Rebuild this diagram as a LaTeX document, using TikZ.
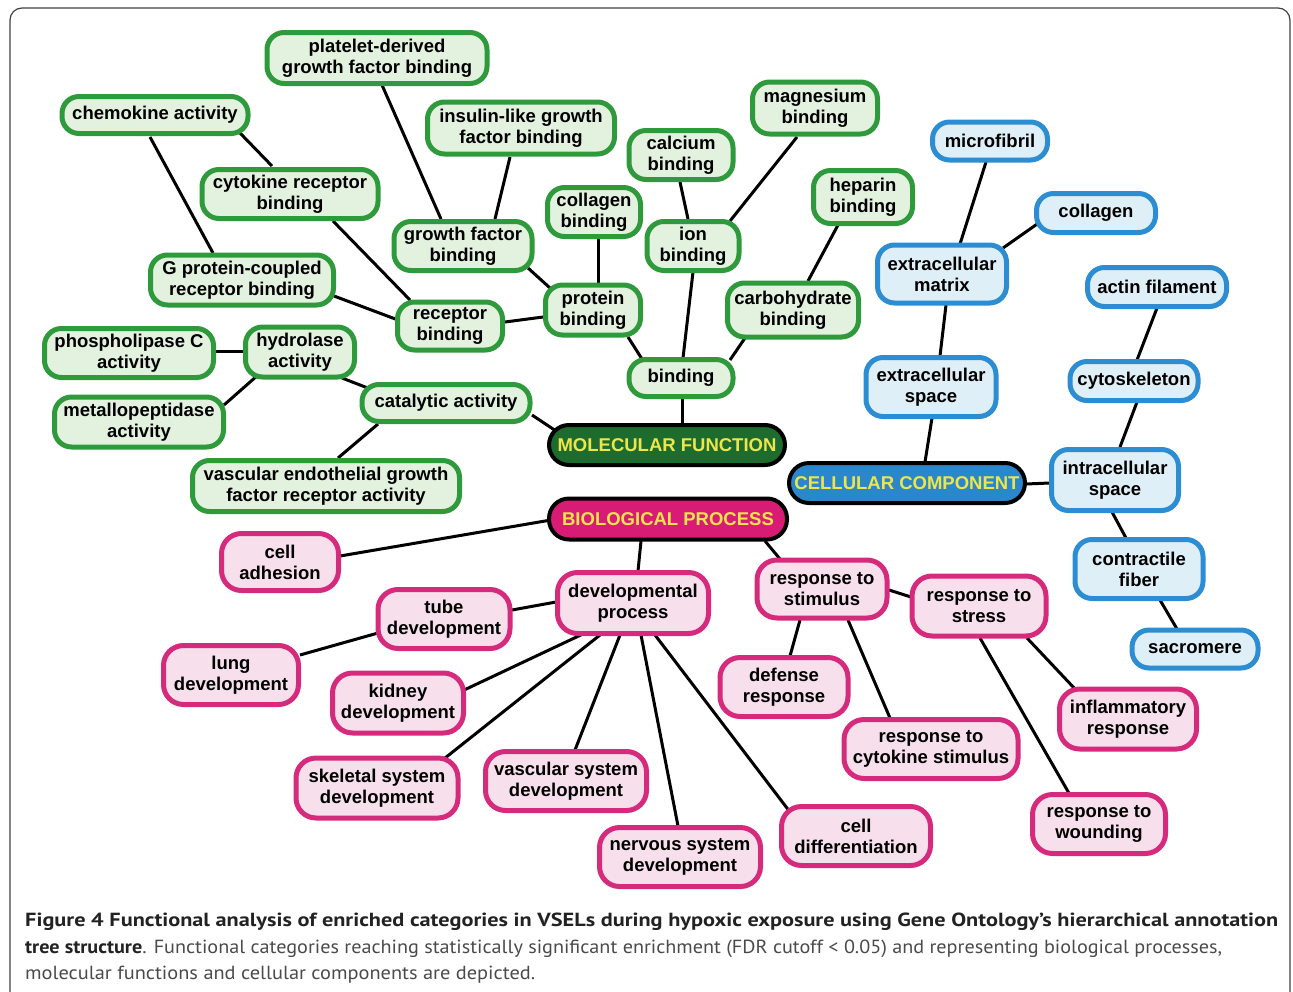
\documentclass[tikz,border=0pt]{standalone}
\usepackage{fontspec}
\usepackage{graphicx}
\setmainfont{Liberation Sans}
\newfontfamily\capfont{PT Sans}
\usetikzlibrary{backgrounds}
\definecolor{gborder}{HTML}{2E9A3C}
\definecolor{gfill}{HTML}{E3F1DF}
\definecolor{groot}{HTML}{1E6B2E}
\definecolor{bborder}{HTML}{2C8DD2}
\definecolor{bfill}{HTML}{DFEFF7}
\definecolor{broot}{HTML}{2A87CB}
\definecolor{pborder}{HTML}{D62A7C}
\definecolor{pfill}{HTML}{F7DFEB}
\definecolor{proot}{HTML}{D81C76}
\definecolor{ytext}{HTML}{EDE64A}
\definecolor{capgray}{HTML}{4A4A4A}
\definecolor{capdark}{HTML}{222222}
\newcommand\lnk[4]{\draw[edge] ([shift={#2}]#1.center) -- ([shift={#4}]#3.center);}
\begin{document}
\begin{tikzpicture}[x={(1pt,0)},y={(0,-1pt)},
  base/.style={rounded corners=17pt, align=center, inner sep=1pt,
    font=\fontsize{18.5}{21}\selectfont\bfseries, line width=5pt},
  gn/.style={base, draw=gborder, fill=gfill},
  bn/.style={base, draw=bborder, fill=bfill},
  pn/.style={base, draw=pborder, fill=pfill, rounded corners=20pt},
  root/.style={base, draw=black, line width=4pt, text=ytext, rounded corners=20pt},
  edge/.style={line width=3pt, black},
  sz/.style 2 args={minimum width=#1, minimum height=#2}]
\useasboundingbox (0,0) rectangle (1293,991);
\draw[line width=1.2pt, black!75, rounded corners=12pt] (10,8) rectangle (1290,1030);
% Molecular function
\node[gn, sz={220}{51}] (pdgf) at (377,58) {platelet-derived\\growth factor binding};
\node[gn, sz={186}{37}] (chem) at (155,115) {chemokine activity};
\node[gn, sz={187}{52}] (ins) at (521,128) {insulin-like growth\\factor binding};
\node[gn, sz={104}{49}] (calc) at (681,155) {calcium\\binding};
\node[gn, sz={125}{52}] (mag) at (815,108) {magnesium\\binding};
\node[gn, sz={176}{49}] (cyt) at (290,194) {cytokine receptor\\binding};
\node[gn, sz={93}{49}] (colb) at (594,212) {collagen\\binding};
\node[gn, sz={99}{53}] (hep) at (863,197) {heparin\\binding};
\node[gn, sz={138}{49}] (gfb) at (463,246) {growth factor\\binding};
\node[gn, sz={92}{49}] (ion) at (693,246) {ion\\binding};
\node[gn, sz={183}{50}] (gpc) at (242,280) {G protein-coupled\\receptor binding};
\node[gn, sz={105}{48}] (rec) at (450,326) {receptor\\binding};
\node[gn, sz={95}{50}] (prot) at (593,310) {protein\\binding};
\node[gn, sz={131}{54}] (carb) at (793,310) {carbohydrate\\binding};
\node[gn, sz={169}{49}] (phos) at (129,353) {phospholipase C\\activity};
\node[gn, sz={109}{50}] (hyd) at (300,352) {hydrolase\\activity};
\node[gn, sz={104}{37}] (bind) at (681,378) {binding};
\node[gn, sz={169}{50}] (met) at (139,422) {metallopeptidase\\activity};
\node[gn, sz={168}{37}] (cat) at (446,403) {catalytic activity};
\node[root, fill=groot, sz={236}{40}] (mf) at (667,445) {MOLECULAR FUNCTION};
\node[gn, sz={267}{51}] (vegf) at (326,486) {vascular endothelial growth\\factor receptor activity};
% Cellular component
\node[bn, sz={115}{38}] (mfib) at (990,141) {microfibril};
\node[bn, sz={119}{39}] (col) at (1096,213) {collagen};
\node[bn, sz={129}{58}] (ecm) at (942,274) {extracellular\\matrix};
\node[bn, sz={139}{39}] (act) at (1157,287) {actin filament};
\node[bn, sz={128}{39}] (csk) at (1134,381) {cytoskeleton};
\node[bn, sz={130}{59}] (ecs) at (931,387) {extracellular\\space};
\node[root, fill=broot, sz={236}{40}] (cc) at (907,483) {CELLULAR COMPONENT};
\node[bn, sz={127}{61}] (ics) at (1115,480) {intracellular\\space};
\node[bn, sz={128}{59}] (cf) at (1139,569) {contractile\\fiber};
\node[bn, sz={126}{38}] (sac) at (1195,649) {sacromere};
% Biological process
\node[root, fill=proot, sz={238}{41}] (bp) at (668,519) {BIOLOGICAL PROCESS};
\node[pn, sz={117}{57}] (cad) at (280,562) {cell\\adhesion};
\node[pn, sz={151}{61}] (dev) at (633,603) {developmental\\process};
\node[pn, sz={130}{58}] (stim) at (822,589) {response to\\stimulus};
\node[pn, sz={134}{60}] (stress) at (979,606) {response to\\stress};
\node[pn, sz={132}{59}] (tube) at (444,619) {tube\\development};
\node[pn, sz={135}{59}] (lung) at (231,675) {lung\\development};
\node[pn, sz={131}{60}] (kid) at (398,703) {kidney\\development};
\node[pn, sz={128}{59}] (def) at (784,687) {defense\\response};
\node[pn, sz={137}{60}] (inf) at (1128,719) {inflammatory\\response};
\node[pn, sz={174}{59}] (rcs) at (931,749) {response to\\cytokine stimulus};
\node[pn, sz={162}{60}] (skel) at (377,788) {skeletal system\\development};
\node[pn, sz={161}{59}] (vsd) at (566,781) {vascular system\\development};
\node[pn, sz={149}{59}] (cdiff) at (856,836) {cell\\differentiation};
\node[pn, sz={133}{59}] (wound) at (1099,824) {response to\\wounding};
\node[pn, sz={161}{59}] (nerv) at (680,857) {nervous system\\development};
% connectors
\begin{pgfonlayer}{background}
\lnk{chem}{(-5,22)}{gpc}{(-29,-27)}
\lnk{chem}{(85,18)}{cyt}{(-18,-28)}
\lnk{gpc}{(92,16)}{rec}{(-52,-6)}
\lnk{cyt}{(43,27)}{rec}{(-40,-26)}
\lnk{pdgf}{(5,27)}{gfb}{(-22,-27)}
\lnk{ins}{(-11,29)}{gfb}{(32,-27)}
\lnk{gfb}{(65,22)}{prot}{(-43,-22)}
\lnk{rec}{(55,-4)}{prot}{(-50,7)}
\lnk{colb}{(4,26)}{prot}{(5,-27)}
\lnk{prot}{(35,27)}{bind}{(-39,-19)}
\lnk{calc}{(-1,27)}{ion}{(-5,-27)}
\lnk{mag}{(-18,29)}{ion}{(37,-25)}
\lnk{ion}{(0,26)}{bind}{(2,-20)}
\lnk{hep}{(-25,28)}{carb}{(15,-29)}
\lnk{carb}{(-48,28)}{bind}{(49,-18)}
\lnk{bind}{(1,20)}{mf}{(15,-21)}
\lnk{cat}{(86,12)}{mf}{(-111,-14)}
\lnk{hyd}{(42,26)}{cat}{(-68,-11)}
\lnk{phos}{(86,-2)}{hyd}{(-57,-1)}
\lnk{met}{(85,-17)}{hyd}{(-42,23)}
\lnk{vegf}{(12,-28)}{cat}{(-68,21)}
\lnk{mfib}{(-4,21)}{ecm}{(18,-30)}
\lnk{col}{(-56,9)}{ecm}{(61,-26)}
\lnk{ecm}{(4,31)}{ecs}{(9,-31)}
\lnk{ecs}{(1,31)}{cc}{(18,-21)}
\lnk{cc}{(119,1)}{ics}{(-65,3)}
\lnk{act}{(0,21)}{csk}{(3,-21)}
\lnk{csk}{(3,21)}{ics}{(5,-33)}
\lnk{ics}{(-3,32)}{cf}{(-13,-31)}
\lnk{cf}{(21,31)}{sac}{(-18,-20)}
\lnk{bp}{(-117,1)}{cad}{(60,-6)}
\lnk{bp}{(-27,22)}{dev}{(5,-32)}
\lnk{bp}{(97,22)}{stim}{(-42,-30)}
\lnk{dev}{(-77,-1)}{tube}{(68,-9)}
\lnk{tube}{(-66,14)}{lung}{(69,-20)}
\lnk{dev}{(-48,30)}{kid}{(64,-12)}
\lnk{dev}{(-33,32)}{skel}{(63,-26)}
\lnk{dev}{(-13,32)}{vsd}{(9,-31)}
\lnk{dev}{(8,32)}{nerv}{(-2,-31)}
\lnk{dev}{(22,32)}{cdiff}{(-66,-24)}
\lnk{stim}{(67,1)}{stress}{(-68,-9)}
\lnk{stim}{(-22,31)}{def}{(6,-31)}
\lnk{stim}{(26,31)}{rcs}{(-41,-31)}
\lnk{stress}{(48,32)}{inf}{(-52,-29)}
\lnk{stress}{(1,32)}{wound}{(-29,-29)}
\end{pgfonlayer}
% caption
\node[anchor=base west, inner sep=0] (cap1) at (25,926) {\resizebox{1253pt}{\height}{\capfont\fontsize{19}{22}\selectfont\bfseries\color{capdark}Figure 4 Functional analysis of enriched categories in VSELs during hypoxic exposure using Gene Ontology’s hierarchical annotation}};
\node[anchor=base west, inner sep=0] (cap2) at (25,953) {\resizebox{1197pt}{\height}{\capfont\fontsize{19}{22}\selectfont{\bfseries\color{capdark}tree structure}\color{capgray}. Functional categories reaching statistically significant enrichment (FDR cutoff < 0.05) and representing biological processes,}};
\node[anchor=base west, inner sep=0] (cap3) at (25,979) {\resizebox{510pt}{\height}{\capfont\fontsize{19}{22}\selectfont\color{capgray}molecular functions and cellular components are depicted.}};
\end{tikzpicture}
\end{document}
